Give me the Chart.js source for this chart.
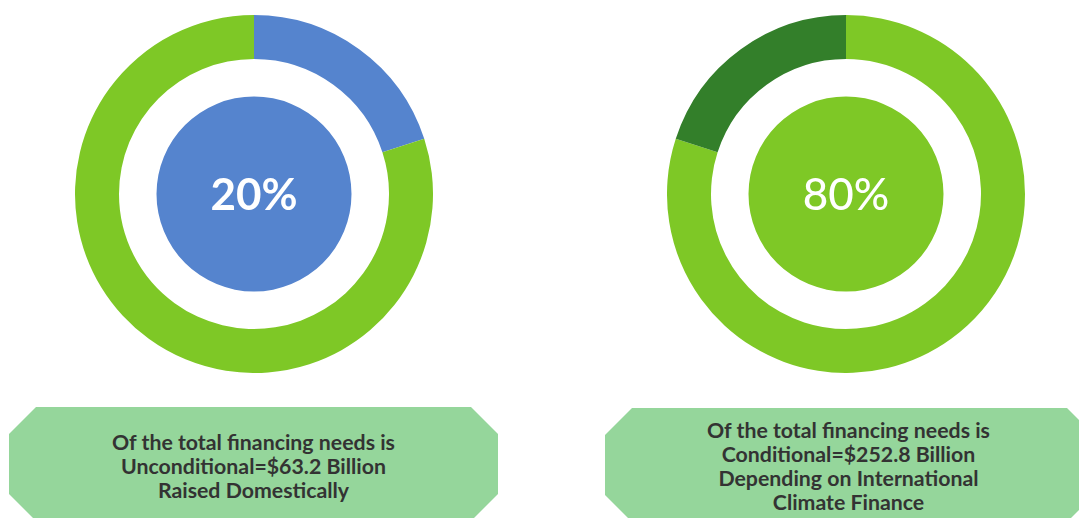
<!DOCTYPE html>
<html>
<head>
<meta charset="utf-8">
<script src="https://cdn.jsdelivr.net/npm/chart.js@4"></script>
<style>
  html, body { margin: 0; padding: 0; background: #fff; }
  body { width: 1079px; height: 518px; position: relative; overflow: hidden; font-family: Lato, "Open Sans", sans-serif; }
  canvas { position: absolute; }
  .box { position: absolute; background: #95d69b;
         clip-path: polygon(27px 0, calc(100% - 27px) 0, 100% 27px, 100% calc(100% - 27px), calc(100% - 27px) 100%, 27px 100%, 0 calc(100% - 27px), 0 27px); }
  .txt { position: absolute; text-align: center; color: #333; font-weight: 700; font-size: 21.3px; line-height: 24px; white-space: nowrap; }
</style>
</head>
<body>
<canvas id="c1" width="358" height="358" style="left:75px;top:15px;"></canvas>
<canvas id="c2" width="358" height="358" style="left:667px;top:15px;"></canvas>
<div class="box" style="left:9px;top:407px;width:489px;height:114px;"></div>
<div class="box" style="left:605px;top:408px;width:489px;height:114px;"></div>
<div class="txt" id="t1" style="left:9px;width:489px;top:430px;"></div>
<div class="txt" id="t2" style="left:605px;width:487px;top:418px;"></div>
<script>
// ---- data ----
const leftLabels = ["Unconditional", "Conditional"];
const leftValues = [20, 80];
const leftColors = ["#5584ce", "#7ec826"];
const leftCenterText = "20%";
const leftCaption = ["Of the total financing needs is", "Unconditional=$63.2 Billion", "Raised Domestically"];

const rightLabels = ["Conditional", "Unconditional"];
const rightValues = [80, 20];
const rightColors = ["#7ec826", "#337f2a"];
const rightCenterText = "80%";
const rightCaption = ["Of the total financing needs is", "Conditional=$252.8 Billion", "Depending on International", "Climate Finance"];

const centerFull = [100];

document.getElementById('t1').innerHTML = leftCaption.join('<br>');
document.getElementById('t2').innerHTML = rightCaption.join('<br>');

function centerTextPlugin(text, weight) {
  return {
    id: 'centerText',
    afterDraw(chart) {
      const meta = chart.getDatasetMeta(0);
      const arc = meta.data[0];
      if (!arc) return;
      const ctx = chart.ctx;
      ctx.save();
      ctx.fillStyle = '#ffffff';
      ctx.font = weight + ' 44px Lato, "Open Sans", sans-serif';
      ctx.textAlign = 'center';
      ctx.textBaseline = 'middle';
      ctx.fillText(text, arc.x, arc.y + 2);
      ctx.restore();
    }
  };
}

function makeChart(id, labels, values, colors, centerColor, text, weight) {
  new Chart(document.getElementById(id), {
    type: 'doughnut',
    data: {
      labels: labels,
      datasets: [
        { data: values, backgroundColor: colors, borderWidth: 0, weight: 44 },
        { data: centerFull, backgroundColor: ['rgba(255,255,255,0)'], borderWidth: 0, weight: 37.5 },
        { data: centerFull, backgroundColor: [centerColor], borderWidth: 0, weight: 97.5 }
      ]
    },
    options: {
      responsive: false,
      animation: false,
      cutout: 0,
      layout: { padding: 0 },
      plugins: { legend: { display: false }, tooltip: { enabled: false } }
    },
    plugins: [centerTextPlugin(text, weight)]
  });
}

makeChart('c1', leftLabels, leftValues, leftColors, leftColors[0], leftCenterText, '700');
makeChart('c2', rightLabels, rightValues, rightColors, rightColors[0], rightCenterText, '500');
</script>
</body>
</html>
